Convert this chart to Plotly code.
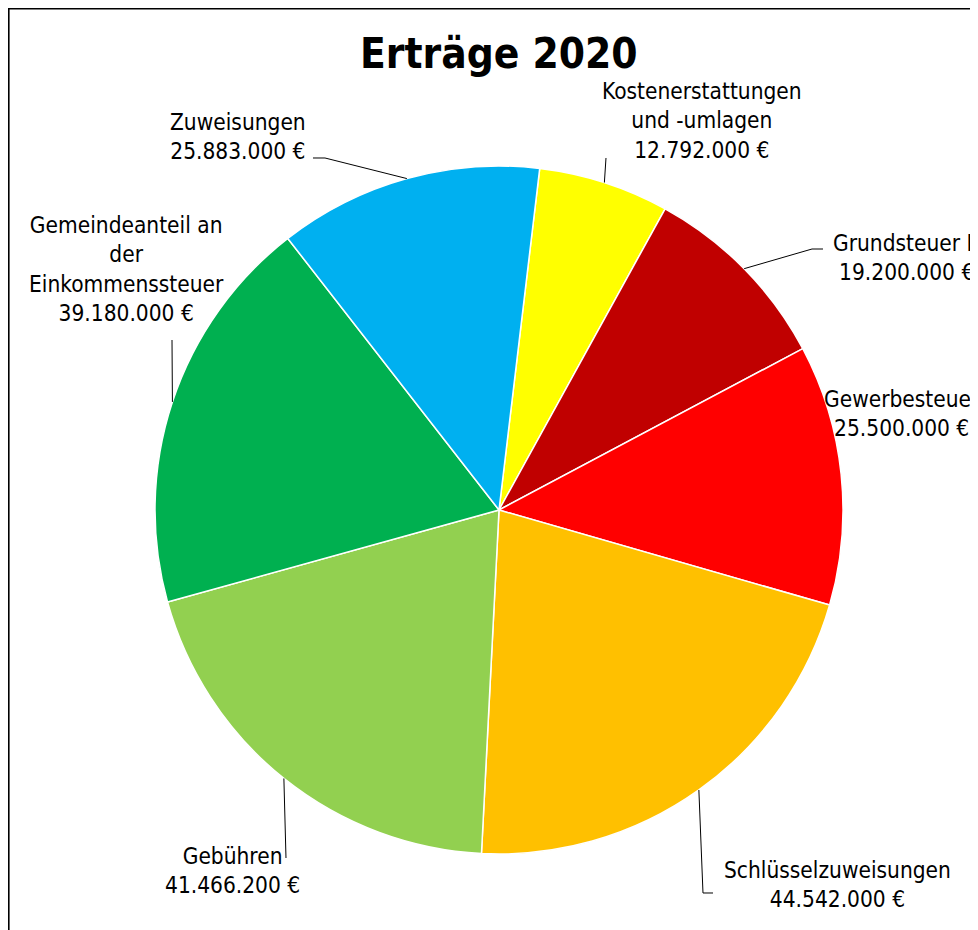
import math
import plotly.graph_objects as go

# ---------------- data ----------------
categories = [
    "Kostenerstattungen und -umlagen",
    "Grundsteuer B",
    "Gewerbesteuer",
    "Schlüsselzuweisungen",
    "Gebühren",
    "Gemeindeanteil an der Einkommenssteuer",
    "Zuweisungen",
]
label_lines = [
    "Kostenerstattungen<br>und -umlagen",
    "Grundsteuer B",
    "Gewerbesteuer",
    "Schlüsselzuweisungen",
    "Gebühren",
    "Gemeindeanteil an<br>der<br>Einkommenssteuer",
    "Zuweisungen",
]
values = [12792000, 19200000, 25500000, 44542000, 41466200, 39180000, 25883000]
colors = ["#FFFF00", "#C00000", "#FF0000", "#FFC000", "#92D050", "#00B050", "#00B0F0"]
title_text = "Erträge 2020"

# ---------------- layout geometry (screen pixels) ----------------
W, H = 978, 930
OFF = 8  # page body margin: figure starts at (8, 8) on screen
CX, CY, R = 499, 510, 344
ROTATION = 6.8

# label centres (screen pixels)
label_pos = [(702, 121), (906, 257), (902, 413), (837, 884), (232, 870), (126, 269), (238, 137)]
# leader-line points after the slice edge (screen pixels); None = no leader line
leader_pts = [
    [(606, 158)],
    [(812, 249), (823, 249)],
    None,
    [(703, 893), (713, 893)],
    [(286, 858)],
    [(172, 340)],
    [(325, 158), (313, 158)],
]

FONT = "DejaVu Sans Condensed, DejaVu Sans"


def px(x):
    return (x - OFF) / W


def py(y):
    return 1 - (y - OFF) / H


def fmt(v):
    return f"{v:,.0f}".replace(",", ".") + " €"


fig = go.Figure(
    go.Pie(
        labels=categories,
        values=values,
        sort=False,
        direction="clockwise",
        rotation=ROTATION,
        textinfo="none",
        hoverinfo="label+value",
        marker=dict(colors=colors, line=dict(color="white", width=1.5)),
        domain=dict(x=[px(CX - R), px(CX + R)], y=[py(CY + R), py(CY - R)]),
        showlegend=False,
    )
)

annotations = []
shapes = []
total = sum(values)
cum = 0.0
for i, v in enumerate(values):
    mid = ROTATION + (cum + v / 2) / total * 360
    cum += v
    th = math.radians(mid)
    ex, ey = CX + R * math.sin(th), CY - R * math.cos(th)
    lx, ly = label_pos[i]
    annotations.append(
        dict(
            x=px(lx), y=py(ly), xref="paper", yref="paper",
            text=label_lines[i] + "<br>" + fmt(v),
            showarrow=False, align="center", xanchor="center", yanchor="middle",
            font=dict(family=FONT, size=22.5, color="black"),
        )
    )
    if leader_pts[i]:
        pts = [(ex, ey)] + leader_pts[i]
        path = "M " + " L ".join(f"{px(a):.5f},{py(b):.5f}" for a, b in pts)
        shapes.append(dict(type="path", path=path, xref="paper", yref="paper",
                           line=dict(color="black", width=1)))

annotations.append(
    dict(x=px(499), y=py(54), xref="paper", yref="paper", text=f"<b>{title_text}</b>",
         showarrow=False, xanchor="center", yanchor="middle",
         font=dict(family=FONT, size=42, color="black"))
)

# chart frame (cut off on the right and at the bottom)
shapes.append(dict(type="rect", xref="paper", yref="paper",
                   x0=0.8 / W, x1=px(W + 40), y0=py(H + 40), y1=1 - 0.8 / H,
                   line=dict(color="black", width=1.6), layer="above"))

fig.update_layout(
    width=W, height=H,
    margin=dict(l=0, r=0, t=0, b=0),
    paper_bgcolor="white", plot_bgcolor="white",
    annotations=annotations, shapes=shapes,
    showlegend=False,
)

fig.write_html("out.html")
